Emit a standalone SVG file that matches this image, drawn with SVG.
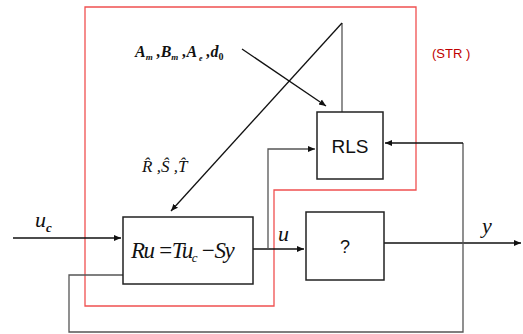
<svg xmlns="http://www.w3.org/2000/svg" width="523" height="334" viewBox="0 0 523 334">
<style>
.box{fill:#fff;stroke:#222;stroke-width:1.5}
.ln{fill:none;stroke:#111;stroke-width:1.3}
.gl{fill:none;stroke:#555;stroke-width:1.3}
.math{font-family:"Liberation Serif",serif;font-style:italic;fill:#111}
.sans{font-family:"Liberation Sans",Arial,sans-serif;fill:#111}
</style>
<defs>
<marker id="ah" markerWidth="8" markerHeight="8" refX="7" refY="4" orient="auto" markerUnits="userSpaceOnUse">
<path d="M0,1 L7,4 L0,7 Z" fill="#111"/>
</marker>
</defs>
<rect width="523" height="334" fill="#fff"/>
<polygon points="85,7 416,7 416,190 274,190 274,306 85,306" fill="none" stroke="#f05050" stroke-width="1.3"/>
<text x="432" y="58" font-family="Liberation Sans,Arial,sans-serif" font-size="13" fill="#c00000">(STR )</text>
<g id="connectors">
<path class="ln" d="M13,238 H121" marker-end="url(#ah)"/>
<path class="ln" d="M253,249 H304" marker-end="url(#ah)"/>
<path class="ln" d="M384,243 H521" marker-end="url(#ah)"/>
<path class="gl" d="M268,249 V149 H315" marker-end="url(#ah)"/>
<path class="gl" d="M463,143 V332 H69 V275 H123"/>
<path class="ln" d="M463,143 H385" marker-end="url(#ah)"/>
<path class="gl" d="M342,112 V23"/>
<path class="ln" d="M342,23 L171,211" marker-end="url(#ah)"/>
<path class="ln" d="M242,49 L326,106" marker-end="url(#ah)"/>
</g>
<g id="rls">
<rect class="box" x="317" y="112" width="66" height="67"/>
<text class="sans" x="350" y="153" font-size="19" text-anchor="middle">RLS</text>
</g>
<g id="controller">
<rect class="box" x="123" y="217" width="130" height="67"/>
<text class="math" x="131" y="258" font-size="23" letter-spacing="-1.5">Ru =Tu<tspan font-size="13" dy="4">c</tspan><tspan dy="-4"> −Sy</tspan></text>
</g>
<g id="plant">
<rect class="box" x="306" y="212" width="78" height="68"/>
<text class="sans" x="345" y="253" font-size="18" text-anchor="middle">?</text>
</g>
<text class="math" x="35" y="227" font-size="22">u<tspan font-size="13" font-weight="bold" dy="5">c</tspan></text>
<text class="math" x="278" y="241" font-size="22">u</text>
<text class="math" x="482" y="233" font-size="22">y</text>
<text class="math" x="135" y="57" font-size="16" font-weight="bold">A<tspan font-size="9" dy="3">m</tspan><tspan dy="-3"> ,B</tspan><tspan font-size="9" dy="3">m</tspan><tspan dy="-3"> ,A</tspan><tspan font-size="8" dy="4"> e</tspan><tspan dy="-4"> ,d</tspan><tspan font-size="10" dy="3" font-style="normal">0</tspan></text>
<text class="math" x="142" y="172" font-size="17">R̂ ,Ŝ ,T̂</text>
</svg>
